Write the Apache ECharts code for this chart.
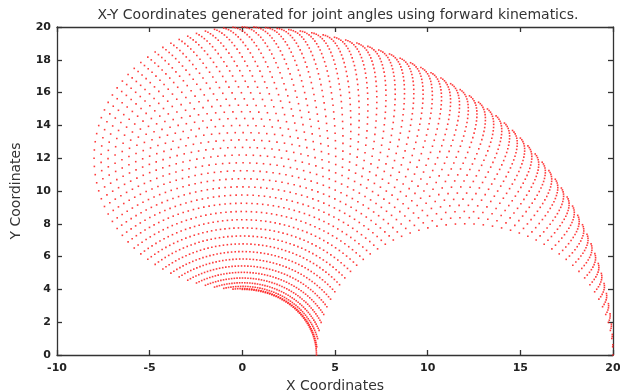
<!DOCTYPE html>
<html>
<head>
<meta charset="utf-8">
<script src="https://cdn.jsdelivr.net/npm/echarts@6/dist/echarts.min.js"></script>
<style>
  html, body { margin: 0; padding: 0; background: #fff; }
  #chart { width: 620px; height: 392px; }
</style>
</head>
<body>
<div id="chart"></div>
<script>
// link lengths of the two-link arm
const linkLengths = [12, 8];
// joint 1 angles (deg)
const theta1 = [0, 1.8, 3.6, 5.4, 7.2, 9, 10.8, 12.6, 14.4, 16.2, 18, 19.8, 21.6, 23.4, 25.2, 27, 28.8, 30.6, 32.4, 34.2,
  36, 37.8, 39.6, 41.4, 43.2, 45, 46.8, 48.6, 50.4, 52.2, 54, 55.8, 57.6, 59.4, 61.2, 63, 64.8, 66.6, 68.4, 70.2,
  72, 73.8, 75.6, 77.4, 79.2, 81, 82.8, 84.6, 86.4, 88.2, 90];
// joint 2 angles (deg)
const theta2 = [0, 3.6, 7.2, 10.8, 14.4, 18, 21.6, 25.2, 28.8, 32.4, 36, 39.6, 43.2, 46.8, 50.4, 54, 57.6, 61.2, 64.8, 68.4,
  72, 75.6, 79.2, 82.8, 86.4, 90, 93.6, 97.2, 100.8, 104.4, 108, 111.6, 115.2, 118.8, 122.4, 126, 129.6, 133.2, 136.8, 140.4,
  144, 147.6, 151.2, 154.8, 158.4, 162, 165.6, 169.2, 172.8, 176.4, 180];
const xTicks = [-10, -5, 0, 5, 10, 15, 20];
const yTicks = [0, 2, 4, 6, 8, 10, 12, 14, 16, 18, 20];

// forward kinematics -> end effector x,y
const d2r = Math.PI / 180;
const points = [];
theta1.forEach(function (a) {
  theta2.forEach(function (b) {
    const x = linkLengths[0] * Math.cos(a * d2r) + linkLengths[1] * Math.cos((a + b) * d2r);
    const y = linkLengths[0] * Math.sin(a * d2r) + linkLengths[1] * Math.sin((a + b) * d2r);
    points.push([x, y]);
  });
});

const chart = echarts.init(document.getElementById('chart'));
const labelStyle = { color: '#222', fontSize: 11, fontWeight: 'bold', fontFamily: 'DejaVu Sans' };
const lineStyle = { color: '#333', width: 1.3 };
const nameStyle = { color: '#333', fontSize: 14, fontFamily: 'DejaVu Sans' };

const option = {
  animation: false,
  backgroundColor: '#fff',
  title: {
    text: 'X-Y Coordinates generated for joint angles using forward kinematics.',
    left: 333,
    textAlign: 'center',
    top: 3,
    textStyle: { color: '#333', fontSize: 14, fontWeight: 'normal', fontFamily: 'DejaVu Sans' }
  },
  grid: { left: 57, right: 7, top: 27, bottom: 37, outerBoundsMode: 'none', containLabel: false },
  xAxis: [
    {
      type: 'value',
      min: xTicks[0], max: xTicks[xTicks.length - 1], interval: 5,
      name: 'X Coordinates', nameLocation: 'middle', nameGap: 24,
      nameTextStyle: nameStyle,
      axisLine: { show: true, onZero: false, lineStyle: lineStyle },
      axisTick: { show: true, inside: true, length: 5, lineStyle: lineStyle },
      axisLabel: Object.assign({ margin: 8 }, labelStyle),
      splitLine: { show: false }
    },
    {
      type: 'value', position: 'top',
      min: xTicks[0], max: xTicks[xTicks.length - 1], interval: 5,
      axisLine: { show: true, onZero: false, lineStyle: lineStyle },
      axisTick: { show: true, inside: true, length: 5, lineStyle: lineStyle },
      axisLabel: { show: false },
      splitLine: { show: false }
    }
  ],
  yAxis: [
    {
      type: 'value',
      min: yTicks[0], max: yTicks[yTicks.length - 1], interval: 2,
      name: 'Y Coordinates', nameLocation: 'middle', nameGap: 34,
      nameTextStyle: nameStyle,
      axisLine: { show: true, onZero: false, lineStyle: lineStyle },
      axisTick: { show: true, inside: true, length: 5, lineStyle: lineStyle },
      axisLabel: Object.assign({ margin: 6 }, labelStyle),
      splitLine: { show: false }
    },
    {
      type: 'value', position: 'right',
      min: yTicks[0], max: yTicks[yTicks.length - 1], interval: 2,
      axisLine: { show: true, onZero: false, lineStyle: lineStyle },
      axisTick: { show: true, inside: true, length: 5, lineStyle: lineStyle },
      axisLabel: { show: false },
      splitLine: { show: false }
    }
  ],
  series: [
    {
      type: 'scatter',
      data: points,
      symbol: 'rect',
      symbolSize: 1.6,
      itemStyle: { color: '#ff1a1a', opacity: 0.85 },
      clip: true
    }
  ]
};
option && chart.setOption(option);
</script>
</body>
</html>
